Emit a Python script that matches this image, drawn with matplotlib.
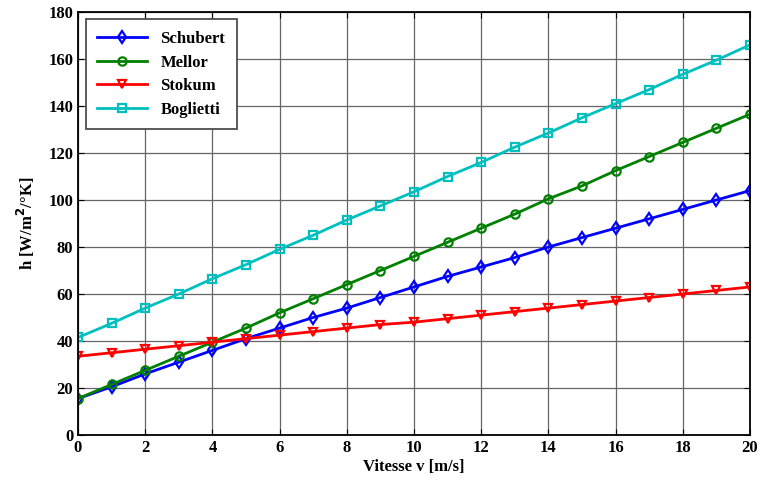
import matplotlib
matplotlib.use('Agg')
import matplotlib.pyplot as plt

# vitesse v [m/s]
v = list(range(0, 21))

schubert = [15.5, 20.5, 26, 31, 36, 41, 45.5, 50, 54, 58.5, 63, 67.5, 71.5, 75.5, 80, 84, 88, 92, 96, 100, 104]
mellor = [15.5, 21.5, 27.5, 33.5, 39.5, 45.5, 52, 58, 64, 70, 76, 82, 88, 94, 100.5, 106, 112.5, 118.5, 124.5, 130.5, 136.5]
stokum = [33.5, 35, 36.5, 38, 39.5, 41, 42.5, 44, 45.5, 47, 48, 49.5, 51, 52.5, 54, 55.5, 57, 58.5, 60, 61.5, 63]
boglietti = [41.5, 47.5, 54, 60, 66.5, 72.5, 79, 85, 91.5, 97.5, 103.5, 110, 116, 122.5, 128.5, 135, 141, 147, 153.5, 159.5, 166]

plt.rcParams['font.family'] = ['Liberation Serif', 'DejaVu Serif']
plt.rcParams['font.weight'] = 'bold'

fig = plt.figure(figsize=(7.61, 4.84), dpi=100)
ax = fig.add_axes([78 / 761, 1 - 435 / 484, (750 - 78) / 761, (435 - 12) / 484])

style = dict(markersize=6, mfc='none', mew=1.6, lw=2)
ax.plot(v, schubert, color='#0000ff', marker='d', label='Schubert', **style)
ax.plot(v, mellor, color='#008000', marker='o', label='Mellor', **style)
ax.plot(v, stokum, color='#ff0000', marker='v', label='Stokum', **style)
ax.plot(v, boglietti, color='#00bfbf', marker='s', label='Boglietti', **style)

ax.set_xlim(0, 20)
ax.set_ylim(0, 180)
ax.set_xticks(range(0, 21, 2))
ax.set_yticks(range(0, 181, 20))
ax.grid(True, color='0.4', lw=0.9, ls='-')
ax.set_axisbelow(True)
ax.tick_params(direction='in', labelsize=12, top=True, right=True, length=4)
for sp in ax.spines.values():
    sp.set_linewidth(1.3)

ax.set_xlabel('Vitesse v [m/s]', fontsize=12, fontweight='bold', labelpad=2)
ax.set_ylabel(r'h [W/m$^{\mathbf{2}}$/°K]', fontsize=12, fontweight='bold', labelpad=8)

leg = ax.legend(loc='upper left', fontsize=12, fancybox=False, edgecolor='0.3',
                framealpha=1, handlelength=3, borderpad=0.7, labelspacing=0.45,
                borderaxespad=0.45)
leg.get_frame().set_linewidth(1.3)

plt.savefig('out.png', dpi=100)
